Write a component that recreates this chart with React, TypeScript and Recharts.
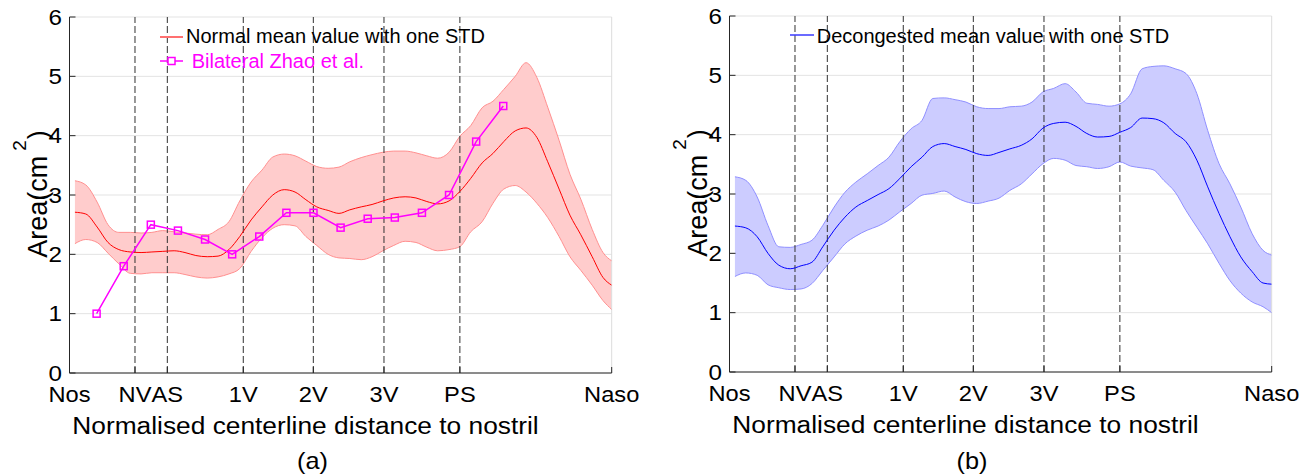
import React from 'react';
import { ComposedChart, Area, Line, XAxis, YAxis, CartesianGrid, ReferenceLine } from 'recharts';

// ---------- data ----------
const positions = [0.010,0.030,0.051,0.071,0.091,0.112,0.132,0.152,0.172,0.193,0.213,0.233,0.254,0.274,0.294,0.314,0.335,0.355,0.375,0.396,0.416,0.436,0.456,0.477,0.497,0.517,0.538,0.558,0.578,0.598,0.619,0.639,0.659,0.679,0.700,0.720,0.740,0.761,0.781,0.801,0.822,0.842,0.862,0.882,0.903,0.923,0.943,0.964,0.984,1.000];

const normalMean = [2.71,2.68,2.46,2.20,2.08,2.04,2.03,2.04,2.05,2.06,2.03,1.98,1.96,1.97,2.08,2.30,2.58,2.80,3.00,3.09,3.05,2.92,2.80,2.74,2.69,2.75,2.80,2.84,2.90,2.95,2.97,2.95,2.89,2.85,2.90,3.06,3.28,3.54,3.70,3.90,4.08,4.13,3.97,3.56,3.10,2.66,2.33,1.96,1.61,1.48];
const normalUpper = [3.24,3.17,2.88,2.50,2.37,2.37,2.36,2.37,2.40,2.38,2.36,2.34,2.33,2.42,2.55,2.90,3.22,3.42,3.64,3.69,3.66,3.57,3.48,3.45,3.47,3.56,3.63,3.68,3.72,3.74,3.74,3.71,3.66,3.62,3.72,3.99,4.17,4.47,4.58,4.78,5.00,5.23,4.98,4.48,3.92,3.35,2.93,2.42,2.03,1.89];
const normalLower = [2.18,2.25,2.20,2.02,1.84,1.68,1.67,1.69,1.69,1.69,1.66,1.62,1.60,1.62,1.67,1.76,2.05,2.28,2.44,2.50,2.48,2.30,2.15,2.00,1.94,1.93,1.91,1.96,2.06,2.15,2.22,2.20,2.12,2.06,2.08,2.13,2.38,2.55,2.86,3.10,3.16,3.05,2.86,2.62,2.30,1.96,1.73,1.48,1.22,1.07];

const decongMean = [2.46,2.43,2.28,2.00,1.80,1.74,1.79,1.85,2.11,2.39,2.61,2.78,2.89,2.99,3.09,3.26,3.46,3.62,3.80,3.85,3.80,3.75,3.68,3.65,3.70,3.76,3.82,3.93,4.11,4.19,4.21,4.14,4.02,3.96,3.97,4.04,4.12,4.28,4.27,4.20,4.02,3.88,3.57,3.12,2.67,2.28,1.94,1.69,1.50,1.48];
const decongUpper = [3.29,3.23,2.95,2.47,2.11,2.10,2.15,2.22,2.47,2.78,3.03,3.20,3.34,3.48,3.62,3.88,4.10,4.24,4.61,4.62,4.59,4.55,4.47,4.44,4.44,4.47,4.48,4.55,4.72,4.78,4.86,4.72,4.53,4.51,4.48,4.52,4.69,5.11,5.15,5.16,5.11,5.03,4.69,4.07,3.51,3.17,2.78,2.33,2.05,1.97];
const decongLower = [1.61,1.67,1.63,1.47,1.42,1.39,1.40,1.49,1.71,1.94,2.16,2.29,2.39,2.46,2.56,2.70,2.84,2.98,3.01,3.05,2.95,2.87,2.84,2.88,2.93,3.06,3.17,3.34,3.51,3.60,3.57,3.48,3.46,3.43,3.46,3.54,3.47,3.44,3.41,3.23,3.03,2.72,2.44,2.16,1.83,1.54,1.33,1.18,1.10,1.00];

const zhaoPositions = [0.05,0.10,0.15,0.20,0.25,0.30,0.35,0.40,0.45,0.50,0.55,0.60,0.65,0.70,0.75,0.80];
const zhaoValues = [1.0,1.8,2.5,2.4,2.25,2.0,2.3,2.7,2.7,2.45,2.6,2.62,2.7,3.0,3.9,4.5];

const tickPositions = [0, 0.1208, 0.1804, 0.3205, 0.4497, 0.58, 0.72, 1];
const tickLabels = ['Nos', 'NV', 'AS', '1V', '2V', '3V', 'PS', 'Naso'];
const landmarkPositions = [0.1208, 0.1804, 0.3205, 0.4497, 0.58, 0.72];
const yTicks = [0, 1, 2, 3, 4, 5, 6];

// ---------- helpers ----------
const FONT = '"Liberation Sans", Arial, Helvetica, sans-serif';
const X_MARGIN = 28.7;
const Y_MARGIN = 7.5;

const buildRows = (mean: number[], up: number[], lo: number[]) =>
  positions.map((t, i) => ({ t, mean: mean[i], hi: up[i], lo: lo[i], band: [lo[i], up[i]] }));

const normalRows = buildRows(normalMean, normalUpper, normalLower);
const decongRows = buildRows(decongMean, decongUpper, decongLower);
const zhaoRows = zhaoPositions.map((t, i) => ({ t, v: zhaoValues[i] }));

const XTick = (props: any) => {
  const { x, y, payload } = props;
  const idx = tickPositions.findIndex((p) => Math.abs(p - payload.value) < 1e-6);
  const axisY = y - X_MARGIN;
  return (
    <g>
      <line x1={x} x2={x} y1={axisY} y2={axisY - 6} stroke="#262626" strokeWidth={1} />
      <text transform={`translate(${x},${y}) scale(1.1,1)`} textAnchor="middle" fontSize={21.5} fontFamily={FONT} fill="#000">
        {idx >= 0 ? tickLabels[idx] : ''}
      </text>
    </g>
  );
};

const YTick = (props: any) => {
  const { x, y, payload } = props;
  const axisX = x + Y_MARGIN;
  return (
    <g>
      <line x1={axisX} x2={axisX + 6} y1={y} y2={y} stroke="#262626" strokeWidth={1} />
      <text transform={`translate(${x},${y}) scale(1.1,1)`} textAnchor="end" dominantBaseline="central" fontSize={22} fontFamily={FONT} fill="#000">
        {payload.value}
      </text>
    </g>
  );
};

const ZhaoDot = (p: any) => (
  <rect key={`zd${p.index}`} x={p.cx - 3.5} y={p.cy - 3.5} width={7} height={7} fill="none" stroke="#ff00ff" strokeWidth={1.5} />
);

type PanelProps = {
  rows: any[];
  fill: string;
  edge: string;
  line: string;
  zhao?: boolean;
};

const Panel = ({ rows, fill, edge, line, zhao }: PanelProps) => (
  <ComposedChart width={660} height={476} data={rows} margin={{ top: 17, right: 48.3, left: 29.5, bottom: 73 }}>
    <CartesianGrid horizontal vertical={false} stroke="#e3e3e3" strokeWidth={1} />
    <XAxis
      type="number"
      dataKey="t"
      domain={[0, 1]}
      ticks={tickPositions}
      interval={0}
      tickSize={0}
      tickMargin={X_MARGIN}
      tickLine={false}
      tick={XTick}
      height={30}
      axisLine={{ stroke: '#262626', strokeWidth: 1 }}
      allowDataOverflow
    />
    <YAxis
      type="number"
      domain={[0, 6]}
      ticks={yTicks}
      interval={0}
      tickSize={0}
      tickMargin={Y_MARGIN}
      tickLine={false}
      tick={YTick}
      width={40}
      axisLine={{ stroke: '#262626', strokeWidth: 1 }}
      allowDataOverflow
    />
    <ReferenceLine x={1} stroke="#dcdcdc" strokeWidth={1} />
    <Area type="monotone" dataKey="band" fill={fill} fillOpacity={1} stroke="none" isAnimationActive={false} />
    <Line type="monotone" dataKey="hi" stroke={edge} strokeWidth={1} dot={false} isAnimationActive={false} />
    <Line type="monotone" dataKey="lo" stroke={edge} strokeWidth={1} dot={false} isAnimationActive={false} />
    {landmarkPositions.map((p) => (
      <ReferenceLine key={p} x={p} stroke="#303030" strokeWidth={1} strokeDasharray="7 3" />
    ))}
    <Line type="monotone" dataKey="mean" stroke={line} strokeWidth={1} dot={false} isAnimationActive={false} />
    {zhao && (
      <Line
        data={zhaoRows}
        type="linear"
        dataKey="v"
        stroke="#ff00ff"
        strokeWidth={1.5}
        dot={ZhaoDot}
        isAnimationActive={false}
      />
    )}
  </ComposedChart>
);

const YTitle = ({ x, y }: { x: number; y: number }) => (
  <text transform={`translate(${x},${y}) rotate(-90)`} textAnchor="middle" fontSize={27} fontFamily={FONT} fill="#000">
    Area(cm
    <tspan dx={5} dy={-21} fontSize={19}>2</tspan>
    <tspan dx={1} dy={21} fontSize={27}>)</tspan>
  </text>
);

export default function App() {
  return (
    <div style={{ position: 'absolute', left: 0, top: 0, width: 1314, height: 476, background: '#fff', overflow: 'hidden' }}>
      <div style={{ position: 'absolute', left: 0, top: 0 }}>
        <Panel rows={normalRows} fill="#ffcccc" edge="#ff8f8f" line="#ff0000" zhao />
      </div>
      <div style={{ position: 'absolute', left: 660, top: -1 }}>
        <Panel rows={decongRows} fill="#ccccff" edge="#8f8fff" line="#0000ff" />
      </div>
      <svg width={1314} height={476} style={{ position: 'absolute', left: 0, top: 0, pointerEvents: 'none' }}>
        {/* left legend */}
        <line x1={160} x2={183} y1={37} y2={37} stroke="#ff7070" strokeWidth={2} />
        <text x={186} y={43.3} fontSize={20} fontFamily={FONT} fill="#000">Normal mean value with one STD</text>
        <line x1={160} x2={183} y1={61} y2={61} stroke="#ff00ff" strokeWidth={1.5} />
        <rect x={168} y={57.5} width={7} height={7} fill="#fff" stroke="#ff00ff" strokeWidth={1.5} />
        <text x={191.7} y={68.3} fontSize={20} fontFamily={FONT} fill="#ff00ff">Bilateral Zhao et al.</text>
        {/* right legend */}
        <line x1={790} x2={814} y1={35} y2={35} stroke="#3a3aff" strokeWidth={1.5} />
        <text x={816.7} y={42.7} fontSize={20} fontFamily={FONT} fill="#000">Decongested mean value with one STD</text>
        {/* axis titles */}
        <YTitle x={47} y={194} />
        <YTitle x={707} y={193} />
        <text transform="translate(305.5,434) scale(1.12,1)" textAnchor="middle" fontSize={23.5} fontFamily={FONT} fill="#000">
          Normalised centerline distance to nostril
        </text>
        <text transform="translate(965.5,433) scale(1.12,1)" textAnchor="middle" fontSize={23.5} fontFamily={FONT} fill="#000">
          Normalised centerline distance to nostril
        </text>
        <text transform="translate(312.5,468.5) scale(1.1,1)" textAnchor="middle" fontSize={23} fontFamily={FONT} fill="#000">(a)</text>
        <text transform="translate(972,468.5) scale(1.1,1)" textAnchor="middle" fontSize={23} fontFamily={FONT} fill="#000">(b)</text>
      </svg>
    </div>
  );
}
